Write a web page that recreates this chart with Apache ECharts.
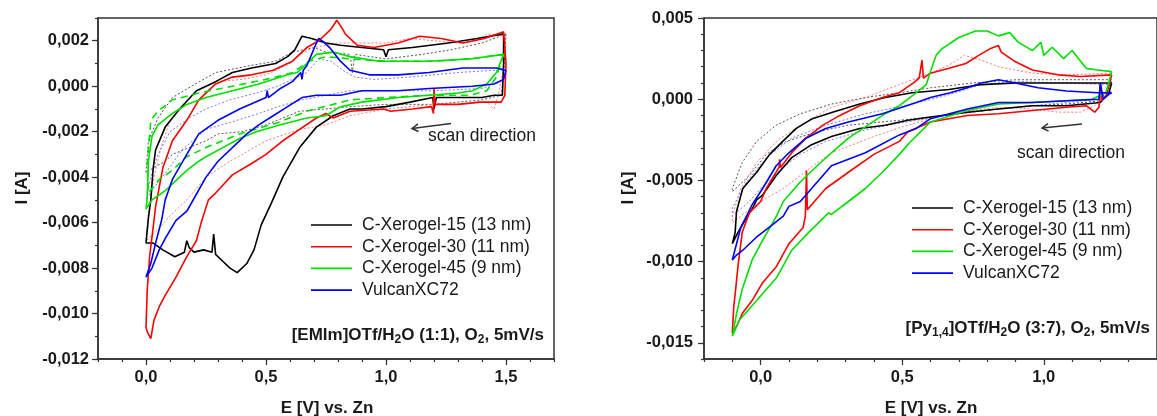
<!DOCTYPE html>
<html>
<head>
<meta charset="utf-8">
<script src="https://cdn.jsdelivr.net/npm/echarts@6.0.0/dist/echarts.min.js"></script>
<style>
  html, body { margin: 0; padding: 0; background: #ffffff; }
  #chart { width: 1157px; height: 416px; }
</style>
</head>
<body>
<div id="chart"></div>
<script>
// ---------------------------------------------------------------
// Cyclic voltammograms, [E (V vs. Zn), I (A)] pairs in scan order.
// Left panel: [EMIm]OTf/H2O (1:1); right panel: [Py1,4]OTf/H2O (3:7)
// ---------------------------------------------------------------
const seriesNames = ['C-Xerogel-15 (13 nm)', 'C-Xerogel-30 (11 nm)', 'C-Xerogel-45 (9 nm)', 'VulcanXC72'];

const leftXerogel15 = [[1.49,0.0023],[1.49,0.0010],[1.485,-0.0004],[1.45,-0.0004],[1.4,-0.0005],[1.3,-0.0005],[1.21,-0.0005],[1.2,-0.0010],[1.195,-0.0005],[1.1,-0.0007],[1.0,-0.0009],[0.9,-0.0010],[0.85,-0.0010],[0.78,-0.0013],[0.71,-0.0018],[0.64,-0.0027],[0.57,-0.0040],[0.52,-0.0052],[0.48,-0.0061],[0.45,-0.0072],[0.42,-0.0078],[0.38,-0.0082],[0.35,-0.0080],[0.32,-0.0077],[0.29,-0.0074],[0.282,-0.0065],[0.275,-0.0073],[0.24,-0.0072],[0.2,-0.0073],[0.18,-0.0071],[0.17,-0.0068],[0.16,-0.0073],[0.12,-0.0075],[0.07,-0.0072],[0.03,-0.0069],[0.0,-0.0069],[0.01,-0.0058],[0.02,-0.0050],[0.03,-0.0036],[0.04,-0.0028],[0.08,-0.0018],[0.14,-0.0010],[0.21,-0.0002],[0.29,0.0002],[0.36,0.0006],[0.44,0.0008],[0.54,0.0010],[0.59,0.0013],[0.62,0.0016],[0.65,0.0022],[0.69,0.0021],[0.75,0.0019],[0.81,0.0018],[0.9,0.0017],[0.99,0.0016],[1.0,0.0013],[1.01,0.0016],[1.11,0.0017],[1.26,0.0019],[1.38,0.0021],[1.49,0.0023]];
const leftXerogel15Dot = [[1.5,0.0023],[1.49,0.0005],[1.48,-0.0004],[1.4,-0.0006],[1.3,-0.0007],[1.2,-0.0008],[1.0,-0.0008],[0.85,-0.0009],[0.75,-0.0010],[0.64,-0.0011],[0.5,-0.0017],[0.4,-0.0020],[0.3,-0.0021],[0.25,-0.0024],[0.18,-0.0027],[0.11,-0.0030],[0.08,-0.0033],[0.03,-0.0036],[0.0,-0.0038],[0.01,-0.0024],[0.05,-0.0014],[0.11,-0.0005],[0.19,0.0],[0.29,0.0006],[0.43,0.0009],[0.54,0.0011],[0.61,0.0015],[0.7,0.0017],[0.75,0.0015],[0.85,0.0014],[0.86,0.0006],[0.87,0.0014],[1.0,0.0012],[1.15,0.0014],[1.27,0.0016],[1.4,0.0019],[1.5,0.0023]];
const leftXerogel30 = [[1.49,0.0024],[1.5,0.0010],[1.495,-0.0004],[1.48,-0.0007],[1.39,-0.0007],[1.3,-0.0008],[1.23,-0.0008],[1.205,-0.0008],[1.2,-0.0001],[1.198,-0.0012],[1.19,-0.0009],[1.11,-0.0010],[1.02,-0.0011],[0.99,-0.0010],[0.85,-0.0011],[0.78,-0.0014],[0.75,-0.0012],[0.71,-0.0014],[0.64,-0.0019],[0.57,-0.0024],[0.5,-0.0030],[0.44,-0.0034],[0.36,-0.0039],[0.29,-0.0047],[0.26,-0.0050],[0.23,-0.0060],[0.21,-0.0068],[0.17,-0.0075],[0.125,-0.0084],[0.08,-0.0092],[0.055,-0.0097],[0.033,-0.0103],[0.02,-0.0111],[0.005,-0.0108],[0.0,-0.0106],[0.005,-0.0090],[0.015,-0.0075],[0.03,-0.0062],[0.04,-0.0053],[0.07,-0.0036],[0.11,-0.0024],[0.17,-0.0015],[0.22,-0.0006],[0.29,0.0001],[0.36,0.0004],[0.44,0.0005],[0.53,0.0007],[0.61,0.0011],[0.67,0.0017],[0.72,0.0020],[0.77,0.0025],[0.795,0.0029],[0.82,0.0025],[0.83,0.0023],[0.88,0.0018],[0.95,0.0017],[1.05,0.0019],[1.14,0.0022],[1.23,0.0021],[1.32,0.0019],[1.41,0.0021],[1.49,0.0024]];
const leftXerogel30Dot = [[1.5,0.0022],[1.49,0.0008],[1.47,-0.0003],[1.45,-0.0010],[1.42,-0.0007],[1.3,-0.0008],[1.2,-0.0008],[1.1,-0.0009],[1.0,-0.0010],[0.85,-0.0013],[0.75,-0.0017],[0.64,-0.0019],[0.5,-0.0024],[0.35,-0.0033],[0.25,-0.0040],[0.17,-0.0050],[0.1,-0.0057],[0.05,-0.0063],[0.0,-0.0068],[0.01,-0.0055],[0.03,-0.0042],[0.06,-0.0028],[0.1,-0.0015],[0.2,-0.0003],[0.29,0.0002],[0.4,0.0003],[0.5,0.0005],[0.6,0.0010],[0.64,0.0014],[0.7,0.0017],[0.8,0.0019],[0.9,0.0019],[1.0,0.0019],[1.1,0.0021],[1.2,0.0020],[1.3,0.0019],[1.38,0.0020],[1.42,0.0023],[1.5,0.0022]];
const leftXerogel45 = [[1.49,0.0014],[1.46,0.0006],[1.42,0.0001],[1.36,-0.0002],[1.3,-0.0003],[1.18,-0.0004],[1.05,-0.0005],[0.9,-0.0007],[0.81,-0.0009],[0.75,-0.0013],[0.67,-0.0014],[0.56,-0.0017],[0.46,-0.0020],[0.39,-0.0023],[0.32,-0.0027],[0.25,-0.0031],[0.22,-0.0033],[0.17,-0.0037],[0.08,-0.0046],[0.025,-0.0050],[0.0,-0.0054],[0.005,-0.0049],[0.01,-0.0033],[0.025,-0.0022],[0.05,-0.0017],[0.11,-0.0012],[0.17,-0.0008],[0.25,-0.0005],[0.36,-0.0002],[0.47,0.0001],[0.59,0.0005],[0.63,0.0006],[0.67,0.0010],[0.71,0.0014],[0.78,0.0015],[0.85,0.0013],[0.97,0.0011],[1.18,0.0011],[1.35,0.0012],[1.49,0.0014]];
const leftXerogel45Dash = [[1.49,0.0014],[1.46,0.0004],[1.42,-0.0002],[1.35,-0.0004],[1.18,-0.0004],[1.0,-0.0005],[0.85,-0.0006],[0.78,-0.0008],[0.67,-0.0011],[0.55,-0.0016],[0.39,-0.0021],[0.25,-0.0027],[0.17,-0.0031],[0.11,-0.0037],[0.055,-0.0041],[0.01,-0.0047],[0.005,-0.0035],[0.02,-0.0015],[0.05,-0.0011],[0.11,-0.0006],[0.22,-0.0003],[0.36,0.0],[0.5,0.0003],[0.61,0.0006],[0.68,0.0011],[0.75,0.0013],[0.85,0.0012],[1.0,0.0011],[1.2,0.0011],[1.35,0.0012],[1.49,0.0014]];
const leftVulcan = [[1.5,0.0007],[1.49,0.0003],[1.45,0.0001],[1.36,0.0],[1.18,-0.0001],[1.05,-0.0002],[0.9,-0.0002],[0.81,-0.0004],[0.71,-0.0004],[0.65,-0.0005],[0.59,-0.0009],[0.53,-0.0013],[0.47,-0.0017],[0.42,-0.0021],[0.36,-0.0027],[0.3,-0.0033],[0.25,-0.0040],[0.17,-0.0055],[0.125,-0.0059],[0.08,-0.0067],[0.055,-0.0072],[0.025,-0.0080],[0.0,-0.0084],[0.02,-0.0078],[0.04,-0.0069],[0.065,-0.0059],[0.08,-0.0050],[0.11,-0.0041],[0.17,-0.0030],[0.22,-0.0021],[0.3,-0.0015],[0.39,-0.0010],[0.5,-0.0005],[0.505,-0.0002],[0.51,-0.0005],[0.56,-0.0001],[0.61,0.0002],[0.645,0.0006],[0.65,0.0003],[0.655,0.0007],[0.67,0.0009],[0.69,0.0014],[0.71,0.0019],[0.72,0.0021],[0.745,0.0019],[0.765,0.0017],[0.78,0.0015],[0.81,0.0011],[0.85,0.0007],[0.93,0.0005],[1.05,0.0005],[1.18,0.0006],[1.32,0.0008],[1.46,0.0008],[1.5,0.0007]];
const leftVulcanDot = [[1.5,0.0007],[1.48,0.0002],[1.4,-0.0001],[1.2,-0.0002],[1.0,-0.0002],[0.85,-0.0002],[0.75,-0.0004],[0.65,-0.0006],[0.55,-0.0009],[0.47,-0.0012],[0.35,-0.0016],[0.25,-0.0019],[0.15,-0.0028],[0.09,-0.0037],[0.03,-0.0045],[0.0,-0.0050],[0.02,-0.0040],[0.05,-0.0030],[0.1,-0.0020],[0.18,-0.0014],[0.25,-0.0010],[0.35,-0.0006],[0.46,-0.0003],[0.55,0.0],[0.63,0.0004],[0.67,0.0006],[0.72,0.0012],[0.77,0.0011],[0.82,0.0007],[0.87,0.0004],[0.95,0.0003],[1.1,0.0004],[1.3,0.0006],[1.45,0.0007],[1.5,0.0007]];

const rightXerogel15 = [[1.24,0.0010],[1.23,0.0004],[1.2,-0.0002],[1.08,-0.0004],[0.96,-0.0004],[0.84,-0.0006],[0.73,-0.0008],[0.6,-0.0011],[0.52,-0.0013],[0.44,-0.0016],[0.35,-0.0018],[0.25,-0.0023],[0.18,-0.0028],[0.11,-0.0036],[0.055,-0.0047],[0.007,-0.0059],[-0.014,-0.0062],[-0.028,-0.0067],[-0.05,-0.0073],[-0.08,-0.0082],[-0.1,-0.0089],[-0.09,-0.0082],[-0.085,-0.0069],[-0.063,-0.0055],[-0.014,-0.0045],[0.032,-0.0034],[0.078,-0.0026],[0.126,-0.0018],[0.183,-0.0012],[0.254,-0.0008],[0.35,-0.0003],[0.44,0.0001],[0.535,0.0004],[0.665,0.0006],[0.78,0.0009],[0.9,0.0010],[1.02,0.0010],[1.13,0.0010],[1.24,0.0010]];
const rightXerogel15Dot = [[1.24,0.0011],[1.2,-0.0001],[1.08,-0.0003],[0.96,-0.0004],[0.84,-0.0006],[0.7,-0.0009],[0.6,-0.0011],[0.49,-0.0013],[0.31,-0.0016],[0.2,-0.0020],[0.09,-0.0026],[0.02,-0.0034],[-0.04,-0.0047],[-0.1,-0.0057],[-0.1,-0.0055],[-0.065,-0.0039],[-0.014,-0.0026],[0.055,-0.0016],[0.14,-0.0009],[0.25,-0.0003],[0.37,0.0001],[0.49,0.0004],[0.6,0.0007],[0.75,0.0010],[0.9,0.0012],[1.05,0.0012],[1.24,0.0012]];
const rightXerogel30 = [[1.24,0.0015],[1.23,0.0008],[1.22,0.0002],[1.205,-0.0001],[1.2,0.0009],[1.195,-0.0005],[1.18,-0.0008],[1.15,-0.0004],[1.08,-0.0005],[0.96,-0.0007],[0.84,-0.0009],[0.73,-0.0010],[0.6,-0.0014],[0.52,-0.0020],[0.49,-0.0026],[0.4,-0.0034],[0.31,-0.0045],[0.23,-0.0055],[0.18,-0.0065],[0.165,-0.0068],[0.162,-0.0044],[0.158,-0.0072],[0.15,-0.0079],[0.1,-0.0089],[0.056,-0.0103],[0.007,-0.0113],[-0.03,-0.0124],[-0.065,-0.0132],[-0.085,-0.0140],[-0.1,-0.0144],[-0.095,-0.0128],[-0.09,-0.0120],[-0.08,-0.0103],[-0.065,-0.0082],[-0.04,-0.0070],[0.0,-0.0063],[0.02,-0.0055],[0.065,-0.0042],[0.067,-0.0037],[0.07,-0.0042],[0.11,-0.0033],[0.16,-0.0024],[0.22,-0.0016],[0.28,-0.0010],[0.35,-0.0004],[0.43,0.0001],[0.49,0.0004],[0.54,0.0010],[0.56,0.0013],[0.57,0.0024],[0.575,0.0013],[0.6,0.0016],[0.665,0.0019],[0.725,0.0022],[0.77,0.0027],[0.81,0.0031],[0.84,0.0033],[0.85,0.0029],[0.9,0.0023],[0.96,0.0018],[1.05,0.0015],[1.13,0.0014],[1.24,0.0015]];
const rightXerogel30Dot = [[1.24,0.0016],[1.22,0.0005],[1.18,-0.0004],[1.13,-0.0008],[1.05,-0.0008],[0.96,-0.0006],[0.84,-0.0005],[0.7,-0.0008],[0.6,-0.0012],[0.5,-0.0017],[0.4,-0.0023],[0.25,-0.0033],[0.17,-0.0043],[0.08,-0.0055],[0.02,-0.0061],[-0.04,-0.0068],[-0.1,-0.0076],[-0.1,-0.0072],[-0.07,-0.0055],[-0.014,-0.0039],[0.055,-0.0026],[0.14,-0.0016],[0.25,-0.0005],[0.37,0.0001],[0.49,0.0009],[0.6,0.0016],[0.665,0.0021],[0.72,0.0027],[0.78,0.0024],[0.84,0.0020],[0.96,0.0016],[1.08,0.0015],[1.24,0.0016]];
const rightXerogel45 = [[1.24,0.0017],[1.22,0.0004],[1.17,0.0],[1.08,-0.0001],[0.96,-0.0002],[0.84,-0.0003],[0.73,-0.0007],[0.6,-0.0014],[0.525,-0.0027],[0.49,-0.0034],[0.43,-0.0045],[0.37,-0.0055],[0.31,-0.0063],[0.25,-0.0071],[0.24,-0.0070],[0.17,-0.0082],[0.11,-0.0093],[0.056,-0.0110],[-0.014,-0.0124],[-0.075,-0.0136],[-0.1,-0.0146],[-0.085,-0.0132],[-0.065,-0.0117],[-0.03,-0.0099],[0.007,-0.0087],[0.056,-0.0072],[0.08,-0.0063],[0.14,-0.0051],[0.2,-0.0041],[0.25,-0.0033],[0.31,-0.0024],[0.37,-0.0017],[0.43,-0.0010],[0.49,-0.0004],[0.55,0.0004],[0.585,0.0009],[0.6,0.0017],[0.62,0.0027],[0.64,0.0031],[0.7,0.0038],[0.76,0.0042],[0.8,0.0042],[0.84,0.0039],[0.88,0.0041],[0.91,0.0035],[0.96,0.0030],[0.99,0.0035],[1.0,0.0027],[1.03,0.0032],[1.07,0.0025],[1.1,0.0030],[1.15,0.0019],[1.19,0.0018],[1.24,0.0017]];
const rightVulcan = [[1.24,0.0004],[1.23,0.0003],[1.21,0.0],[1.2,0.0010],[1.195,0.0],[1.08,-0.0001],[0.96,-0.0002],[0.84,-0.0002],[0.73,-0.0006],[0.6,-0.0012],[0.55,-0.0018],[0.49,-0.0022],[0.37,-0.0033],[0.25,-0.0041],[0.2,-0.0051],[0.14,-0.0063],[0.1,-0.0066],[0.08,-0.0072],[0.03,-0.0079],[-0.015,-0.0085],[-0.063,-0.0093],[-0.085,-0.0096],[-0.1,-0.0099],[-0.085,-0.0089],[-0.07,-0.0079],[-0.03,-0.0065],[0.007,-0.0055],[0.055,-0.0041],[0.1,-0.0033],[0.16,-0.0024],[0.23,-0.0018],[0.31,-0.0014],[0.43,-0.0009],[0.55,-0.0002],[0.6,0.0001],[0.67,0.0004],[0.73,0.0007],[0.78,0.0010],[0.84,0.0012],[0.9,0.0010],[0.98,0.0007],[1.08,0.0005],[1.19,0.0004],[1.24,0.0004]];
const rightVulcanDot = [[1.24,0.0005],[1.2,0.0],[1.08,-0.0002],[0.96,-0.0004],[0.84,-0.0006],[0.7,-0.0009],[0.55,-0.0013],[0.45,-0.0016],[0.37,-0.0019],[0.23,-0.0026],[0.14,-0.0034],[0.08,-0.0042],[0.0,-0.0055],[-0.04,-0.0063],[-0.1,-0.0072],[-0.1,-0.0067],[-0.05,-0.0051],[0.02,-0.0036],[0.11,-0.0024],[0.23,-0.0016],[0.37,-0.0009],[0.535,-0.0003],[0.65,0.0002],[0.78,0.0009],[0.9,0.0011],[1.05,0.0010],[1.24,0.0009]];

// Axis ranges and labelled tick values
const leftXRange = [-0.2, 1.7];
const leftYRange = [-0.012, 0.003];
const rightXRange = [-0.2, 1.4];
const rightYRange = [-0.016, 0.005];
const leftXTicks = [0, 0.5, 1, 1.5];
const leftYTicks = [-0.012, -0.01, -0.008, -0.006, -0.004, -0.002, 0, 0.002];
const rightXTicks = [0, 0.5, 1];
const rightYTicks = [-0.015, -0.01, -0.005, 0, 0.005];

// ---------------------------------------------------------------
const FONT = '"Liberation Sans", Arial, sans-serif';
const AXIS_COLOR = '#333';
const TEXT_COLOR = '#1a1a1a';

const colors = { black: '#000000', red: '#ff0000', green: '#00e000', blue: '#0000ff' };
const dotColors = { black: '#555555', red: '#ff7a7a', blue: '#7a7aff' };

function comma(v, digits) {
  if (Math.abs(v) < 1e-12) v = 0;
  return v.toFixed(digits).replace('.', ',');
}

// Minor-tick axis that carries the data
function minorX(grid, range) {
  return {
    type: 'value', gridIndex: grid, position: 'bottom', min: range[0], max: range[1], interval: 0.1,
    axisLine: { show: true, onZero: false, lineStyle: { color: AXIS_COLOR, width: 1.5 } },
    axisTick: { show: true, inside: false, length: 3, lineStyle: { color: AXIS_COLOR, width: 1.2 } },
    axisLabel: { show: false }, splitLine: { show: false }
  };
}
function minorY(grid, range) {
  return {
    type: 'value', gridIndex: grid, position: 'left', min: range[0], max: range[1], interval: 0.001,
    axisLine: { show: true, onZero: false, lineStyle: { color: AXIS_COLOR, width: 1.5 } },
    axisTick: { show: true, inside: false, length: 3, lineStyle: { color: AXIS_COLOR, width: 1.2 } },
    axisLabel: { show: false }, splitLine: { show: false }
  };
}
// Labelled axis with the longer major ticks
function majorX(grid, range, ticks) {
  return {
    type: 'value', gridIndex: grid, position: 'bottom', min: range[0], max: range[1],
    axisLine: { show: false, onZero: false },
    axisTick: { show: true, length: 6, customValues: ticks, lineStyle: { color: AXIS_COLOR, width: 1.2 } },
    axisLabel: {
      show: true, customValues: ticks, margin: 10,
      fontFamily: FONT, fontSize: 16.5, fontWeight: 'bold', color: TEXT_COLOR,
      formatter: v => comma(v, 1)
    },
    splitLine: { show: false }
  };
}
function majorY(grid, range, ticks, margin) {
  return {
    type: 'value', gridIndex: grid, position: 'left', min: range[0], max: range[1],
    axisLine: { show: false, onZero: false },
    axisTick: { show: true, length: 6, customValues: ticks, lineStyle: { color: AXIS_COLOR, width: 1.2 } },
    axisLabel: {
      show: true, customValues: ticks, margin: margin,
      fontFamily: FONT, fontSize: 16.5, fontWeight: 'bold', color: TEXT_COLOR,
      formatter: v => comma(v, 3)
    },
    splitLine: { show: false }
  };
}

function curve(name, data, axis, color, width, type) {
  return {
    name: name, type: 'line', data: data,
    xAxisIndex: axis, yAxisIndex: axis,
    symbol: 'none', showSymbol: false, smooth: false, clip: true,
    lineStyle: { color: color, width: width, type: type || 'solid' },
    itemStyle: { color: color },
    emphasis: { disabled: true },
    silent: true, animation: false
  };
}

const series = [
  // left panel (axis index 0)
  curve('C-Xerogel-15 (13 nm), 2nd', leftXerogel15Dot, 0, dotColors.black, 1, [2, 2]),
  curve('C-Xerogel-30 (11 nm), 2nd', leftXerogel30Dot, 0, dotColors.red, 1, [2, 2]),
  curve('VulcanXC72, 2nd', leftVulcanDot, 0, dotColors.blue, 1, [2, 2]),
  curve(seriesNames[0], leftXerogel15, 0, colors.black, 1.6),
  curve(seriesNames[1], leftXerogel30, 0, colors.red, 1.6),
  curve('C-Xerogel-45 (9 nm), 2nd', leftXerogel45Dash, 0, colors.green, 1.6, [7, 5]),
  curve(seriesNames[2], leftXerogel45, 0, colors.green, 1.6),
  curve(seriesNames[3], leftVulcan, 0, colors.blue, 1.6),
  // right panel (axis index 2)
  curve('C-Xerogel-15 (13 nm), 2nd', rightXerogel15Dot, 2, dotColors.black, 1, [2, 2]),
  curve('C-Xerogel-30 (11 nm), 2nd', rightXerogel30Dot, 2, dotColors.red, 1, [2, 2]),
  curve('VulcanXC72, 2nd', rightVulcanDot, 2, dotColors.blue, 1, [2, 2]),
  curve(seriesNames[0], rightXerogel15, 2, colors.black, 1.6),
  curve(seriesNames[1], rightXerogel30, 2, colors.red, 1.6),
  curve(seriesNames[2], rightXerogel45, 2, colors.green, 1.6),
  curve(seriesNames[3], rightVulcan, 2, colors.blue, 1.6)
];

// Legend keys drawn as plain line segments
function legendAt(left, top) {
  return {
    orient: 'vertical', left: left, top: top, padding: 0,
    data: seriesNames.map(n => ({ name: n, icon: 'rect' })), selectedMode: false,
    itemWidth: 41, itemHeight: 1.6, itemGap: 1.7,
    textStyle: { fontFamily: FONT, fontSize: 17.5, color: TEXT_COLOR, lineHeight: 20, padding: [0, 0, 0, 5] }
  };
}

function plainText(x, y, text, opts) {
  return {
    type: 'text', x: x, y: y, silent: true, rotation: (opts && opts.rotation) || 0,
    style: {
      text: text, fill: TEXT_COLOR, fontFamily: FONT,
      fontSize: (opts && opts.size) || 17.5,
      fontWeight: (opts && opts.weight) || 'normal',
      align: (opts && opts.align) || 'left', verticalAlign: 'middle'
    }
  };
}
function conditionText(xRight, y, text) {
  return {
    type: 'text', x: xRight, y: y, silent: true,
    style: {
      text: text, fill: TEXT_COLOR, fontFamily: FONT, fontSize: 17, fontWeight: 'bold',
      align: 'right', verticalAlign: 'middle', lineHeight: 22,
      rich: {
        s: { fontFamily: FONT, fontSize: 12, fontWeight: 'bold', fill: TEXT_COLOR, verticalAlign: 'bottom', lineHeight: 12 }
      }
    }
  };
}
function arrow(tail, head, wingA, wingB) {
  return [
    { type: 'polyline', silent: true, shape: { points: [tail, head] }, style: { stroke: '#333', lineWidth: 1.5, fill: null } },
    { type: 'polyline', silent: true, shape: { points: [wingA, head, wingB] }, style: { stroke: '#333', lineWidth: 1.5, fill: null } }
  ];
}

const chart = echarts.init(document.getElementById('chart'), null, { renderer: 'canvas' });
chart.setOption({
  animation: false,
  backgroundColor: '#ffffff',
  grid: [
    { left: 98, top: 18, width: 456, height: 341, show: true, borderColor: AXIS_COLOR, borderWidth: 1.5, backgroundColor: 'transparent', containLabel: false },
    { left: 704, top: 18, width: 454.6, height: 341, show: true, borderColor: AXIS_COLOR, borderWidth: 1.5, backgroundColor: 'transparent', containLabel: false }
  ],
  xAxis: [
    minorX(0, leftXRange), majorX(0, leftXRange, leftXTicks),
    minorX(1, rightXRange), majorX(1, rightXRange, rightXTicks)
  ],
  yAxis: [
    minorY(0, leftYRange), majorY(0, leftYRange, leftYTicks, 9),
    minorY(1, rightYRange), majorY(1, rightYRange, rightYTicks, 11)
  ],
  legend: [legendAt(311, 215), legendAt(912, 198)],
  series: series,
  graphic: [
    plainText(327, 408, 'E [V] vs. Zn', { weight: 'bold', size: 17, align: 'center' }),
    plainText(931, 408, 'E [V] vs. Zn', { weight: 'bold', size: 17, align: 'center' }),
    plainText(22, 188, 'I [A]', { weight: 'bold', size: 17, align: 'center', rotation: Math.PI / 2 }),
    plainText(628, 188, 'I [A]', { weight: 'bold', size: 17, align: 'center', rotation: Math.PI / 2 }),
    conditionText(544, 335, '[EMIm]OTf/H{s|2}O (1:1), O{s|2}, 5mV/s'),
    conditionText(1150, 328, '[Py{s|1,4}]OTf/H{s|2}O (3:7), O{s|2}, 5mV/s'),
    plainText(428, 136, 'scan direction'),
    plainText(1017, 153, 'scan direction'),
    ...arrow([451, 123.5], [412, 128.5], [418, 123.8], [418.5, 131.5]),
    ...arrow([1082, 124], [1042, 128], [1048, 123.6], [1048.6, 131.2])
  ]
});
</script>
</body>
</html>
